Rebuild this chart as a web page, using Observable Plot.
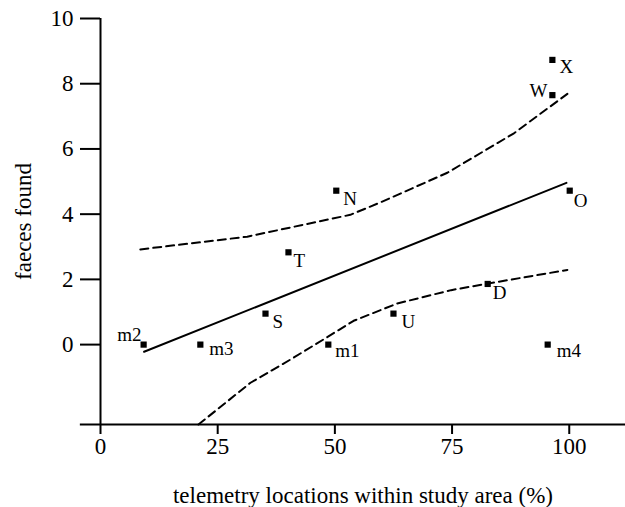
<!DOCTYPE html>
<html>
<head>
<meta charset="utf-8">
<script src="https://cdn.jsdelivr.net/npm/d3@7"></script>
<script src="https://cdn.jsdelivr.net/npm/@observablehq/plot@0.6"></script>
<style>
  html, body { margin: 0; padding: 0; background: #fff; }
  #chart svg { display: block; }
</style>
</head>
<body>
<div id="chart"></div>
<script>
// ---- data ----
const names = ["m2", "m3", "S", "T", "N", "m1", "U", "D", "m4", "O", "W", "X"];
const telemetry = [9.2, 21.3, 35.2, 40.1, 50.3, 48.6, 62.5, 82.6, 95.4, 100.1, 96.4, 96.4];
const faeces = [0, 0, 0.95, 2.83, 4.72, 0, 0.95, 1.86, 0, 4.72, 7.65, 8.73];

// regression line
const fitX = [9.3, 99.4];
const fitY = [-0.22, 4.96];

// upper confidence band
const upperX = [8.5, 31.3, 53.3, 59.7, 74, 88.2, 99.6];
const upperY = [2.92, 3.31, 3.98, 4.36, 5.27, 6.48, 7.69];

// lower confidence band
const lowerX = [20.9, 32, 40.5, 47.6, 54, 63.3, 74.8, 82.6, 99.6];
const lowerY = [-2.45, -1.17, -0.46, 0.16, 0.73, 1.26, 1.67, 1.87, 2.29];

const xTicks = [0, 25, 50, 75, 100];
const yTicks = [0, 2, 4, 6, 8, 10];
const xDomain = [0, 112];
const yDomain = [-2.45, 10];

// label placement (styling, not data)
const labelPlace = {
  m2: [-2, -10, "end"], m3: [9, 4, "start"], S: [7, 8, "start"], T: [5, 9, "start"],
  N: [7, 8, "start"], m1: [7, 6, "start"], U: [8, 8, "start"], D: [5, 9, "start"],
  m4: [9, 6, "start"], O: [4, 10, "start"], W: [-5, -4, "end"], X: [7, 7, "start"]
};

const pts = names.map((n, i) => ({name: n, x: telemetry[i], y: faeces[i]}));
const line = (xs, ys) => xs.map((x, i) => ({x, y: ys[i]}));

const chart = Plot.plot({
  width: 625,
  height: 507,
  marginLeft: 100,
  marginRight: 0,
  marginTop: 18,
  marginBottom: 83,
  x: {domain: xDomain},
  y: {domain: yDomain},
  style: {fontFamily: "'Liberation Serif', 'DejaVu Serif', serif", background: "#fff", color: "#000"},
  marks: [
    Plot.axisY({ticks: yTicks, tickSize: 20, tickPadding: 7, fontSize: 23, strokeWidth: 2,
      label: "faeces found", labelArrow: "none", labelAnchor: "center", labelOffset: 86}),
    Plot.axisX({ticks: xTicks, tickSize: 10, tickPadding: 3, fontSize: 23, strokeWidth: 2,
      label: "telemetry locations within study area (%)", labelArrow: "none", labelAnchor: "center", labelOffset: 78}),
    Plot.ruleY([yDomain[0]], {x1: -4.3, x2: xDomain[1], strokeWidth: 2}),
    Plot.ruleX([0], {y1: yDomain[0], y2: yDomain[1], strokeWidth: 2}),
    Plot.line(line(upperX, upperY), {x: "x", y: "y", strokeWidth: 2, strokeDasharray: "8,5"}),
    Plot.line(line(lowerX, lowerY), {x: "x", y: "y", strokeWidth: 2, strokeDasharray: "8,5"}),
    Plot.line(line(fitX, fitY), {x: "x", y: "y", strokeWidth: 2}),
    Plot.dot(pts, {x: "x", y: "y", symbol: "square", r: 3.5, fill: "#000", stroke: "none"}),
    ...pts.map(p => {
      const [dx, dy, anchor] = labelPlace[p.name];
      return Plot.text([p], {x: "x", y: "y", text: "name", dx, dy, textAnchor: anchor, fontSize: 19, fill: "#000"});
    })
  ]
});
document.getElementById("chart").appendChild(chart);
</script>
</body>
</html>
